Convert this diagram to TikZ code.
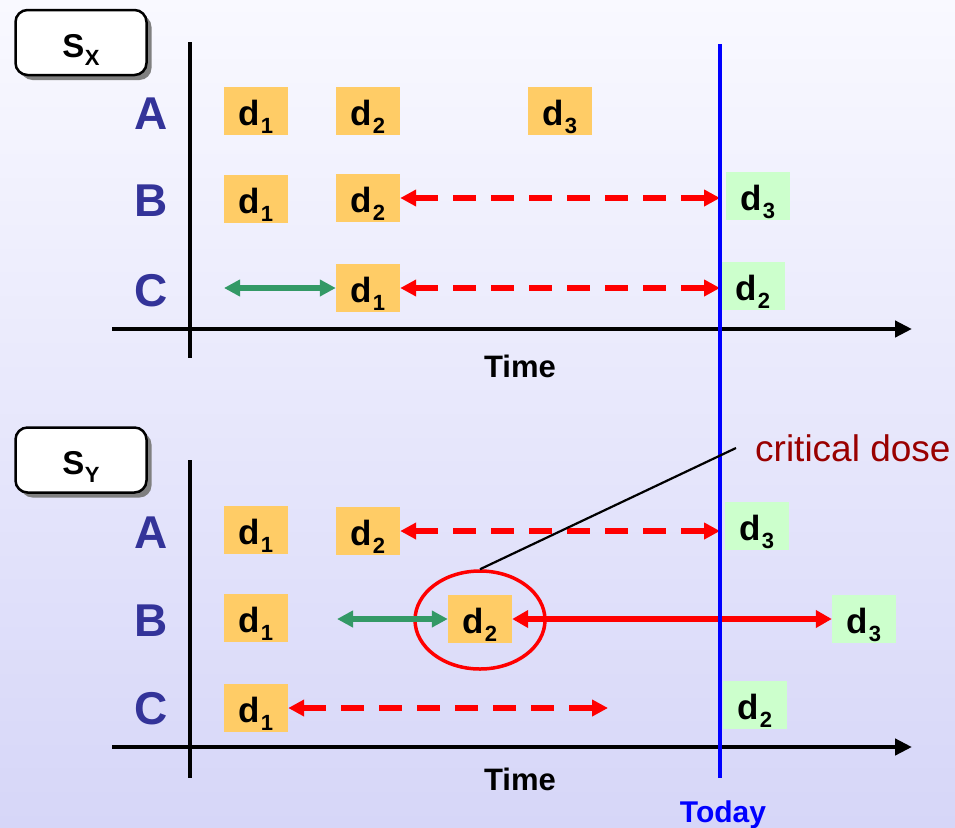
\documentclass[tikz,border=0pt]{standalone}
\usepackage{fontspec}
\setmainfont{Liberation Sans}
\usetikzlibrary{arrows.meta,shapes.geometric,shadows}
\definecolor{bgtop}{RGB}{249,249,255}
\definecolor{bgbot}{RGB}{214,214,248}
\definecolor{dorange}{RGB}{255,204,102}
\definecolor{dgreen}{RGB}{204,255,204}
\definecolor{rowblue}{RGB}{51,51,153}
\definecolor{arrgreen}{RGB}{51,153,102}
\definecolor{critred}{RGB}{153,0,0}
\newcommand{\sbsc}[1]{\kern0.5pt\raisebox{-8pt}{\fontsize{22}{22}\selectfont #1}}
\begin{document}
\begin{tikzpicture}[x=1pt,y=-1pt,
  dbox/.style={fill=dorange, minimum width=64pt, minimum height=48pt, inner sep=0pt,
    font=\fontsize{35}{35}\selectfont\bfseries, text height=29pt, text depth=0pt},
  gbox/.style={dbox, fill=dgreen},
  rowlab/.style={font=\fontsize{46}{46}\selectfont\bfseries, text=rowblue, anchor=base, inner sep=0pt},
  timelab/.style={font=\fontsize{31}{31}\selectfont\bfseries, anchor=base, inner sep=0pt},
  sbox/.style={draw, line width=2.5pt, rounded corners=12pt, fill=white,
    minimum width=131pt, minimum height=65pt, inner sep=0pt,
    font=\fontsize{33}{33}\selectfont\bfseries, text height=29pt, text depth=0pt,
    drop shadow={shadow xshift=5pt, shadow yshift=-5pt, fill=gray, opacity=1}},
  axisline/.style={line width=4.5pt},
  axisarrow/.style={line width=4.5pt, -{Triangle[length=17pt,width=16pt]}},
  reddash/.style={red, line width=6pt, dash pattern=on 23pt off 15pt,
    {Triangle[length=16pt,width=16pt]}-{Triangle[length=16pt,width=16pt]}},
  redsolid/.style={red, line width=6.5pt,
    {Triangle[length=16pt,width=17pt]}-{Triangle[length=16pt,width=17pt]}},
  greenarr/.style={arrgreen, line width=5.5pt,
    {Triangle[length=16pt,width=16pt]}-{Triangle[length=16pt,width=16pt]}}
]
\useasboundingbox (0,0) rectangle (955,827);
\shade[top color=bgtop,bottom color=bgbot] (0,0) rectangle (955,827);

% label boxes
\node[sbox] (sx) at (81,42.5) {S\sbsc{X}};
\node[sbox] (sy) at (81,460) {S\sbsc{Y}};

% axes
\coordinate (tvt) at (190,42);
\coordinate (tvb) at (190,358);
\coordinate (tha) at (112,329);
\coordinate (thb) at (912,329);
\coordinate (bvt) at (190,460);
\coordinate (bvb) at (190,778);
\coordinate (bha) at (112,747);
\coordinate (bhb) at (912,747);
\draw[axisline] (tvt) -- (tvb);
\draw[axisarrow] (tha) -- (thb);
\draw[axisline] (bvt) -- (bvb);
\draw[axisarrow] (bha) -- (bhb);

% row labels
\node[rowlab] (xA) at (151,129) {A};
\node[rowlab] (xB) at (151,216) {B};
\node[rowlab] (xC) at (151,306) {C};
\node[rowlab] (yA) at (151,548) {A};
\node[rowlab] (yB) at (151,636) {B};
\node[rowlab] (yC) at (151,724) {C};

% time labels
\node[timelab] (t1) at (520,377) {Time};
\node[timelab] (t2) at (520,790) {Time};

% today line
\coordinate (today) at (720,44);
\coordinate (todayb) at (720,778);

% dose boxes S_X
\node[dbox] (xa1) at (256,111) {d\sbsc{1}};
\node[dbox] (xa2) at (368,111) {d\sbsc{2}};
\node[dbox] (xa3) at (560,111) {d\sbsc{3}};
\node[dbox] (xb1) at (256,199) {d\sbsc{1}};
\node[dbox] (xb2) at (368,198) {d\sbsc{2}};
\node[gbox] (xb3) at (758,196) {d\sbsc{3}};
\node[dbox] (xc1) at (368,288) {d\sbsc{1}};
\node[gbox] (xc2) at (753,286) {d\sbsc{2}};

% critical ellipse
\node[draw=red, line width=3.5pt, ellipse, minimum width=130pt, minimum height=98pt, inner sep=0pt] (crit) at (480,620) {};

% dose boxes S_Y
\node[dbox] (ya1) at (256,530) {d\sbsc{1}};
\node[dbox] (ya2) at (368,531) {d\sbsc{2}};
\node[gbox] (ya3) at (757,526) {d\sbsc{3}};
\node[dbox] (yb1) at (256,618) {d\sbsc{1}};
\node[dbox] (yb2) at (480,619) {d\sbsc{2}};
\node[gbox] (yb3) at (864,619) {d\sbsc{3}};
\node[dbox] (yc1) at (256,708) {d\sbsc{1}};
\node[gbox] (yc2) at (755,705) {d\sbsc{2}};

% arrows S_X
\coordinate (xcg) at (224,288);
\draw[greenarr] (xcg) -- (xc1.west);
\draw[reddash] (xb2.east) -- (xb2.east -| today);
\draw[reddash] (xc1.east) -- (xc1.east -| today);

% arrows S_Y
\coordinate (ybg) at (337,619);
\coordinate (ycend) at (608,708);
\draw[greenarr] (ybg) -- (yb2.west);
\draw[reddash] (ya2.east) -- (ya2.east -| today);
\draw[redsolid] (yb2.east) -- (yb3.west);
\draw[reddash] (yc1.east) -- (ycend);

% today line
\draw[blue, line width=4pt] (today) -- (todayb);
\node[font=\fontsize{30}{30}\selectfont\bfseries, text=blue, anchor=base, inner sep=0pt] (todaylbl) at (723,822) {Today};

% critical dose callout
\coordinate (cdl) at (736,448);
\draw[line width=2.2pt] (crit.north) -- (cdl);
\node[font=\fontsize{37}{37}\selectfont, text=critred, anchor=base west, inner sep=0pt] (cd) at (755,461) {critical dose};
\end{tikzpicture}
\end{document}
